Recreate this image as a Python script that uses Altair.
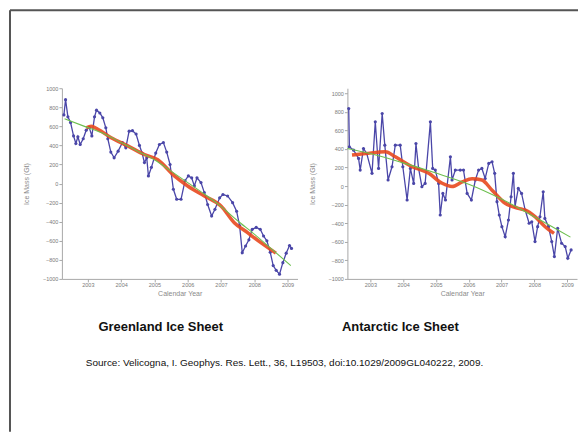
import altair as alt
import pandas as pd

# ---------------- Greenland ----------------
g_blue_year = [2002.28, 2002.33, 2002.40, 2002.48, 2002.57, 2002.64, 2002.70, 2002.77, 2002.86, 2002.95,
               2003.04, 2003.12, 2003.20, 2003.26, 2003.36, 2003.45, 2003.54, 2003.60, 2003.69, 2003.79,
               2003.91, 2004.04, 2004.14, 2004.24, 2004.34, 2004.45, 2004.55, 2004.63, 2004.70, 2004.77,
               2004.82, 2004.91, 2005.04, 2005.15, 2005.27, 2005.37, 2005.47, 2005.57, 2005.67, 2005.80,
               2005.92, 2006.02, 2006.12, 2006.20, 2006.28, 2006.40, 2006.50, 2006.60, 2006.72, 2006.82,
               2006.96, 2007.06, 2007.20, 2007.35, 2007.47, 2007.56, 2007.64, 2007.74, 2007.84, 2007.94,
               2008.06, 2008.18, 2008.28, 2008.38, 2008.48, 2008.57, 2008.66, 2008.76, 2008.86, 2008.96,
               2009.06, 2009.12]
g_blue_val = [720, 880, 700, 640, 500, 420, 490, 410, 470, 560,
              590, 500, 700, 770, 740, 690, 585, 470, 330, 270,
              340, 430, 375, 550, 555, 520, 400, 320, 220, 270,
              80, 170, 320, 410, 430, 330, 200, -60, -165, -165,
              30, 80, 60, -25, 60, 10, -95, -220, -340, -270,
              -150, -115, -130, -200, -290, -440, -725, -655, -590, -480,
              -460, -480, -550, -600, -720, -860, -910, -950, -830, -730,
              -650, -680]
g_red_year = [2002.95, 2003.10, 2003.30, 2003.70, 2004.20, 2004.70, 2005.10, 2005.60, 2006.00,
              2006.50, 2007.00, 2007.40, 2007.80, 2008.20, 2008.65]
g_red_val = [585, 600, 570, 480, 395, 305, 250, 80, -25, -130, -235, -410, -515, -620, -730]
g_green_year = [2002.30, 2002.90, 2003.50, 2004.00, 2004.50, 2005.00, 2005.50, 2006.00, 2006.50,
                2007.00, 2007.50, 2008.00, 2008.50, 2009.10]
g_green_val = [680, 600, 520, 430, 340, 250, 130, 10, -110, -240, -390, -530, -680, -860]

# ---------------- Antarctica ----------------
a_blue_year = [2002.34, 2002.36, 2002.49, 2002.64, 2002.69, 2002.79, 2002.89, 2003.05, 2003.15, 2003.25,
               2003.36, 2003.44, 2003.54, 2003.66, 2003.76, 2003.91, 2003.99, 2004.12, 2004.22, 2004.32,
               2004.39, 2004.47, 2004.57, 2004.67, 2004.83, 2004.90, 2004.98, 2005.08, 2005.13, 2005.21,
               2005.29, 2005.44, 2005.49, 2005.59, 2005.74, 2005.84, 2005.95, 2006.08, 2006.20, 2006.30,
               2006.40, 2006.50, 2006.61, 2006.71, 2006.79, 2006.86, 2006.93, 2007.01, 2007.11, 2007.21,
               2007.29, 2007.36, 2007.41, 2007.51, 2007.61, 2007.72, 2007.84, 2007.92, 2008.02, 2008.10,
               2008.17, 2008.27, 2008.32, 2008.43, 2008.53, 2008.61, 2008.71, 2008.83, 2008.94, 2009.02,
               2009.12]
a_blue_val = [835, 423, 387, 298, 172, 405, 351, 137, 692, 190,
              782, 441, 65, 208, 441, 441, 208, -150, 190, 29,
              459, 190, -7, 29, 692, 190, 172, 29, -312, -79,
              -150, 315, 65, 172, 172, 172, -79, -150, 65, 172,
              190, 82, 244, 262, 137, -168, -312, -437, -545, -366,
              -115, 137, -222, -25, -79, -258, -401, -384, -598, -437,
              -330, -61, -348, -437, -598, -760, -455, -616, -652, -777,
              -688]
a_red_year = [2002.44, 2002.85, 2003.46, 2003.76, 2004.27, 2004.78, 2005.19, 2005.49, 2005.80,
              2006.10, 2006.40, 2006.71, 2007.11, 2007.51, 2007.72, 2008.02, 2008.32, 2008.60]
a_red_val = [335, 350, 370, 315, 210, 137, 30, -5, 45, 80, 65, -45, -185, -240, -260, -330, -435, -510]
a_green_year = [2002.30, 2003.00, 2004.00, 2005.00, 2006.00, 2007.00, 2008.00, 2009.10]
a_green_val = [405, 350, 250, 140, 20, -140, -330, -550]

x_ticks = [2003, 2004, 2005, 2006, 2007, 2008, 2009]
y_ticks = [1000, 800, 600, 400, 200, 0, -200, -400, -600, -800, -1000]

panel_titles = ["Greenland Ice Sheet", "Antarctic Ice Sheet"]
y_title = "Ice Mass (Gt)"
x_title = "Calendar Year"
source = "Source: Velicogna, I. Geophys. Res. Lett., 36, L19503, doi:10.1029/2009GL040222, 2009."

FONT = "Liberation Sans"
BLUE = "#4a46a8"
RED = "#e8491f"
GREEN = "#6cbf4e"


def panel(by, bv, ry, rv, gy, gv, xdom, ydom, w, h, title, tdx):
    blue = pd.DataFrame({"year": by, "mass": bv})
    red = pd.DataFrame({"year": ry, "mass": rv})
    green = pd.DataFrame({"year": gy, "mass": gv})
    x = alt.X("year:Q", scale=alt.Scale(domain=xdom, nice=False, zero=False),
              axis=alt.Axis(values=x_ticks, tickCount=len(x_ticks) + 2, format="d",
                            title=x_title, grid=False,
                            labelOverlap=False, labelBound=False,
                            titleY=15, titleBaseline="middle", labelFlush=False))
    y = alt.Y("mass:Q", scale=alt.Scale(domain=ydom, nice=False, zero=False),
              axis=alt.Axis(values=y_ticks, tickCount=len(y_ticks) + 2, format="d",
                            title=y_title, grid=False,
                            labelOverlap=False, labelBound=False,
                            titleX=-35, titleY=h / 2, titleAngle=-90, titleAlign="center",
                            titleBaseline="middle", labelFlush=False))
    l_blue = alt.Chart(blue).mark_line(
        color=BLUE, strokeWidth=1.3,
        point=alt.OverlayMarkDef(filled=True, size=10, color=BLUE)).encode(x=x, y=y)
    l_red = alt.Chart(red).mark_line(color=RED, strokeWidth=3.5, opacity=0.9,
                                     interpolate="monotone").encode(x="year:Q", y="mass:Q")
    l_green = alt.Chart(green).mark_line(color=GREEN, strokeWidth=1.1,
                                         interpolate="monotone").encode(x="year:Q", y="mass:Q")
    return alt.layer(l_blue, l_red, l_green).properties(
        width=w, height=h,
        title=alt.TitleParams(title, orient="bottom", anchor="middle", dx=tdx, offset=24,
                              font=FONT, fontSize=13, fontWeight="bold", color="#111"))


g = panel(g_blue_year, g_blue_val, g_red_year, g_red_val, g_green_year, g_green_val,
          [2002.22, 2009.3], [-1000, 1000], 236, 191, panel_titles[0], -19)
a = panel(a_blue_year, a_blue_val, a_red_year, a_red_val, a_green_year, a_green_val,
          [2002.30, 2009.3], [-1000, 1054], 230, 191, panel_titles[1], -62)

one = alt.Data(values=[{"t": source}])
border_v = alt.Chart(one).mark_rule(color="#555", strokeWidth=2).encode(
    x=alt.value(-1), y=alt.value(-78), y2=alt.value(344))
border_h = alt.Chart(one).mark_rule(color="#555", strokeWidth=2).encode(
    x=alt.value(-1), x2=alt.value(568), y=alt.value(-78))
src = alt.Chart(one).mark_text(font=FONT, fontSize=10, color="#111", align="center",
                               baseline="middle").encode(
    x=alt.value(274), y=alt.value(275), text="t:N")
frame = alt.layer(border_v, border_h, src).properties(width=1, height=1)

chart = alt.hconcat(frame, g, a, spacing=50, bounds="flush").properties(
    padding=0, background="white"
).configure_view(stroke="transparent").configure_axis(
    domainColor="#a8a8a8", tickColor="#a8a8a8", tickSize=3, labelPadding=1,
    labelFont=FONT, labelFontSize=5.5, labelColor="#7a7a7a",
    titleFont=FONT, titleFontSize=7, titleColor="#8a8a8a", titleFontWeight="normal"
)

chart.save("out.html", embed_options={"renderer": "svg", "actions": False})
